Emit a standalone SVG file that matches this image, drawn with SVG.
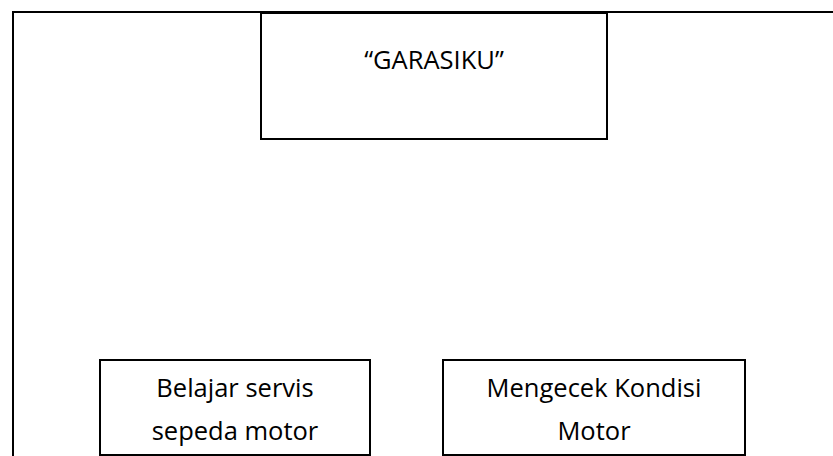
<svg xmlns="http://www.w3.org/2000/svg" width="833" height="456" viewBox="0 0 833 456">
<style>
.box{fill:#fff;stroke:#000;stroke-width:2}
.frame{fill:none;stroke:#000;stroke-width:2}
text{font-family:"Open Sans","Liberation Sans",sans-serif;font-size:25.5px;fill:#000;text-anchor:middle}
</style>
<rect width="833" height="456" fill="#fff"/>
<g id="frame">
<path class="frame" d="M13 456 V12 H833"/>
</g>
<g id="garasiku">
<rect class="box" x="261" y="13" width="346" height="126"/>
<text x="434" y="69">“GARASIKU”</text>
</g>
<g id="belajar">
<rect class="box" x="100" y="360" width="270" height="95"/>
<text x="235" y="397">Belajar servis</text>
<text x="235" y="440">sepeda motor</text>
</g>
<g id="mengecek">
<rect class="box" x="443" y="360" width="302" height="95"/>
<text x="594" y="397">Mengecek Kondisi</text>
<text x="594" y="440">Motor</text>
</g>
<g id="connectors"></g>
</svg>
